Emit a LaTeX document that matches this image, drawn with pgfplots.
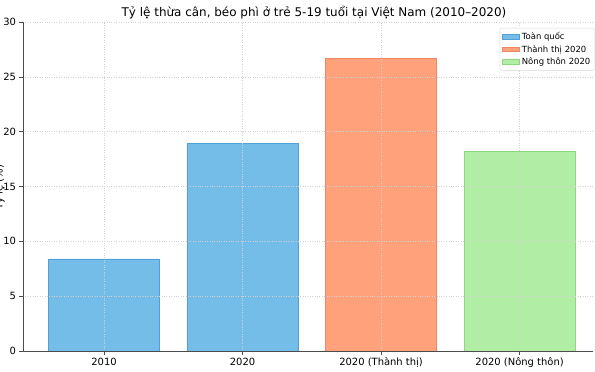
\documentclass[border=0pt]{standalone}
\usepackage{pgfplots}
\pgfplotsset{compat=1.18}
\usepackage{fontspec}
\setmainfont{DejaVu Sans}
\definecolor{cblue}{RGB}{116,189,233}
\definecolor{cblueE}{RGB}{80,160,215}
\definecolor{corange}{RGB}{255,161,122}
\definecolor{corangeE}{RGB}{238,135,100}
\definecolor{cgreen}{RGB}{177,237,165}
\definecolor{cgreenE}{RGB}{140,215,128}
\begin{document}
\begin{tikzpicture}
\begin{axis}[
  scale only axis,
  width=570bp, height=329bp,
  at={(0,0)}, anchor=south west,
  xmin=-0.585, xmax=3.53,
  ymin=0, ymax=30,
  ytick={0,5,...,30},
  xtick={0,1,2,3},
  xticklabels={2010,2020,2020 (Thành thị),2020 (Nông thôn)},
  axis lines*=left,
  axis line style={draw=black!70, line width=0.8pt},
  tick style={draw=black!70, line width=0.6pt},
  tick align=outside,
  major tick length=3.5bp,
  xmajorgrids, ymajorgrids,
  grid style={dotted, draw=black!18, line width=0.5pt},
  axis on top,
  ticklabel style={font=\fontsize{10}{12}\selectfont},
  /pgf/number format/assume math mode=true,
  ybar, bar width=0.8, bar shift=0pt,
  legend style={at={(rel axis cs:1,1)}, anchor=north east, xshift=2bp, yshift=-6bp,
    font=\fontsize{8.5}{10}\selectfont, draw=black!15, rounded corners=2pt,
    row sep=0pt, inner sep=2.5pt, cells={anchor=west}},
  legend image code/.code={\draw[#1, bar width=0pt, sharp corners] (0cm,-0.08cm) rectangle (0.6cm,0.08cm);},
]
\addplot[fill=cblue, draw=cblueE, line width=0.6pt] coordinates {(0,8.4) (1,18.9)};
\addlegendentry{Toàn quốc}
\addplot[fill=corange, draw=corangeE, line width=0.6pt] coordinates {(2,26.7)};
\addlegendentry{Thành thị 2020}
\addplot[fill=cgreen, draw=cgreenE, line width=0.6pt] coordinates {(3,18.2)};
\addlegendentry{Nông thôn 2020}
\end{axis}
\node[font=\fontsize{12}{14}\selectfont, anchor=base] at (291bp,334bp) {Tỷ lệ thừa cân, béo phì ở trẻ 5-19 tuổi tại Việt Nam (2010–2020)};
\node[font=\fontsize{10}{12}\selectfont, rotate=90, anchor=base, inner sep=0pt] at (-20.5bp,164bp) {Tỷ lệ (\%)};
\pgfresetboundingbox
\path[use as bounding box] (-23bp,-21bp) rectangle (572bp,351bp);
\end{tikzpicture}
\end{document}
